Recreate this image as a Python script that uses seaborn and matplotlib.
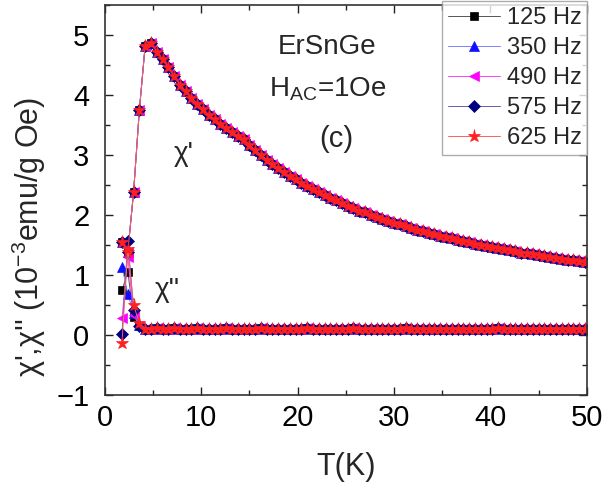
import numpy as np
import pandas as pd
import matplotlib
matplotlib.use("Agg")
import matplotlib.pyplot as plt
from matplotlib.ticker import MultipleLocator
import seaborn as sns

# Temperature grid (K)
temps = [1.8, 2.4, 3.0, 3.6, 4.2, 4.8, 5.4, 6.0, 6.6, 7.2, 7.8, 8.4, 9.0, 9.6,
         10.2, 10.8, 11.4, 12.0, 12.6, 13.2, 13.8, 14.4, 15.0, 15.6, 16.2, 16.8,
         17.4, 18.0, 18.6, 19.2, 19.8, 20.4, 21.0, 21.6, 22.2, 22.8, 23.4, 24.0,
         24.6, 25.2, 25.8, 26.4, 27.0, 27.6, 28.2, 28.8, 29.4, 30.0, 30.6, 31.2,
         31.8, 32.4, 33.0, 33.6, 34.2, 34.8, 35.4, 36.0, 36.6, 37.2, 37.8, 38.4,
         39.0, 39.6, 40.2, 40.8, 41.4, 42.0, 42.6, 43.2, 43.8, 44.4, 45.0, 45.6,
         46.2, 46.8, 47.4, 48.0, 48.6, 49.2, 49.8]

# In-phase susceptibility chi' (10^-3 emu/g Oe), frequency independent
chi_real = [1.55, 1.38, 2.38, 3.75, 4.82, 4.87, 4.72, 4.59, 4.46, 4.31, 4.17,
            4.06, 3.95, 3.85, 3.76, 3.67, 3.59, 3.52, 3.45, 3.38, 3.32, 3.26,
            3.17, 3.08, 3.00, 2.92, 2.85, 2.78, 2.72, 2.64, 2.59, 2.53, 2.48,
            2.43, 2.38, 2.33, 2.28, 2.24, 2.19, 2.15, 2.11, 2.07, 2.04, 2.00,
            1.97, 1.93, 1.90, 1.87, 1.84, 1.81, 1.78, 1.75, 1.73, 1.70, 1.68,
            1.65, 1.63, 1.61, 1.58, 1.56, 1.54, 1.52, 1.50, 1.48, 1.46, 1.44,
            1.43, 1.41, 1.39, 1.37, 1.36, 1.34, 1.33, 1.31, 1.30, 1.28, 1.27,
            1.25, 1.24, 1.23, 1.21]

# Out-of-phase chi'' below 4 K for each frequency
freqs = ["125 Hz", "350 Hz", "490 Hz", "575 Hz", "625 Hz"]
chi_imag_low = {
    "125 Hz": [0.74, 1.05, 0.30, 0.15],
    "350 Hz": [1.13, 0.68, 0.36, 0.16],
    "490 Hz": [0.28, 1.30, 0.33, 0.15],
    "575 Hz": [0.02, 1.57, 0.42, 0.15],
    "625 Hz": [-0.13, 1.43, 0.49, 0.20],
}
# Flat chi'' background above 4 K
chi_imag_tail = [0.10, 0.10, 0.11, 0.10, 0.10, 0.11, 0.10, 0.10, 0.10, 0.11,
                 0.10, 0.10, 0.10, 0.10, 0.11, 0.10, 0.10, 0.10, 0.10, 0.10,
                 0.11, 0.10, 0.10, 0.10, 0.10, 0.10, 0.10, 0.10, 0.11, 0.10,
                 0.10, 0.10, 0.10, 0.10, 0.10, 0.10, 0.11, 0.10, 0.10, 0.10,
                 0.10, 0.10, 0.10, 0.10, 0.10, 0.11, 0.10, 0.10, 0.10, 0.10,
                 0.10, 0.10, 0.10, 0.10, 0.10, 0.10, 0.10, 0.10, 0.10, 0.10,
                 0.10, 0.11, 0.10, 0.10, 0.10, 0.10, 0.10, 0.10, 0.10, 0.10,
                 0.10, 0.10, 0.10, 0.10, 0.10, 0.10, 0.10]

colors = ["#000000", "#1010ff", "#ff00ff", "#000080", "#ff2020"]
line_colors = ["#555555", "#8080ff", "#ff40ff", "#6060b0", "#ff6060"]
markers = ["s", "^", "<", "D", "*"]
msizes = [6, 7, 7, 6, 9.5]

rows = []
for f in freqs:
    for t, v in zip(temps, chi_real):
        rows.append((f, "real", t, v))
    for t, v in zip(temps, chi_imag_low[f] + chi_imag_tail):
        rows.append((f, "imag", t, v))
df = pd.DataFrame(rows, columns=["freq", "part", "T", "chi"])

sns.set_style("ticks")
plt.rcParams["font.family"] = ["Liberation Sans", "DejaVu Sans"]
plt.rcParams["mathtext.fontset"] = "custom"
plt.rcParams["mathtext.rm"] = "Liberation Sans"
plt.rcParams["mathtext.it"] = "Liberation Sans:italic"

fig = plt.figure(figsize=(6.05, 4.90), dpi=100)
ax = fig.add_axes([0.173, 0.1945, 0.797, 0.7955])

for f, c, lc, m, ms in zip(freqs, colors, line_colors, markers, msizes):
    for part in ["real", "imag"]:
        sub = df[(df.freq == f) & (df.part == part)]
        sns.lineplot(data=sub, x="T", y="chi", ax=ax, color=lc, lw=0.7,
                     marker=m, markersize=ms, markerfacecolor=c,
                     markeredgecolor=c, markeredgewidth=0.5,
                     label=f if part == "real" else None, legend=False,
                     estimator=None, sort=False)

ax.set_xlim(0, 50)
ax.set_ylim(-1, 5.5)
ax.xaxis.set_major_locator(MultipleLocator(10))
ax.xaxis.set_minor_locator(MultipleLocator(5))
ax.yaxis.set_major_locator(MultipleLocator(1))
ax.yaxis.set_minor_locator(MultipleLocator(0.5))
ax.tick_params(which="both", direction="in", top=True, right=True,
               labelsize=21, colors="#222222", labelcolor="black", width=1.0)
ax.tick_params(which="major", length=6)
ax.tick_params(which="minor", length=3.5)
ax.tick_params(axis="x", which="major", pad=7)
ax.tick_params(axis="y", which="major", pad=11)
for s in ax.spines.values():
    s.set_linewidth(1.2)
    s.set_color("#333333")

ax.set_xlabel("T(K)", fontsize=22, va="top")
ax.xaxis.set_label_coords(0.5, -0.147)
ax.set_ylabel("χ',χ'' (10$^{-3}$emu/g Oe)", fontsize=22)
ax.yaxis.set_label_coords(-0.118, 0.404)

ax.text(23.1, 4.79, "ErSnGe", fontsize=20, ha="center", va="center")
ax.text(23.1, 4.10, "H$_{\\rm AC}$=1Oe", fontsize=20, ha="center", va="center")
ax.text(24.0, 3.27, "(c)", fontsize=21, ha="center", va="center")
ax.text(8.2, 3.02, "χ'", fontsize=20, ha="center", va="center")
ax.text(6.5, 0.74, "χ''", fontsize=20, ha="center", va="center")

leg = ax.legend(loc="upper right", bbox_to_anchor=(0.971, 0.997),
                bbox_transform=fig.transFigure, fontsize=17, frameon=True,
                fancybox=False, edgecolor="#999999", handlelength=2.2,
                handletextpad=0.3, labelspacing=0.34, borderpad=0.25,
                borderaxespad=0.0)
leg.get_frame().set_linewidth(1.0)

fig.savefig("out.png", dpi=100)
